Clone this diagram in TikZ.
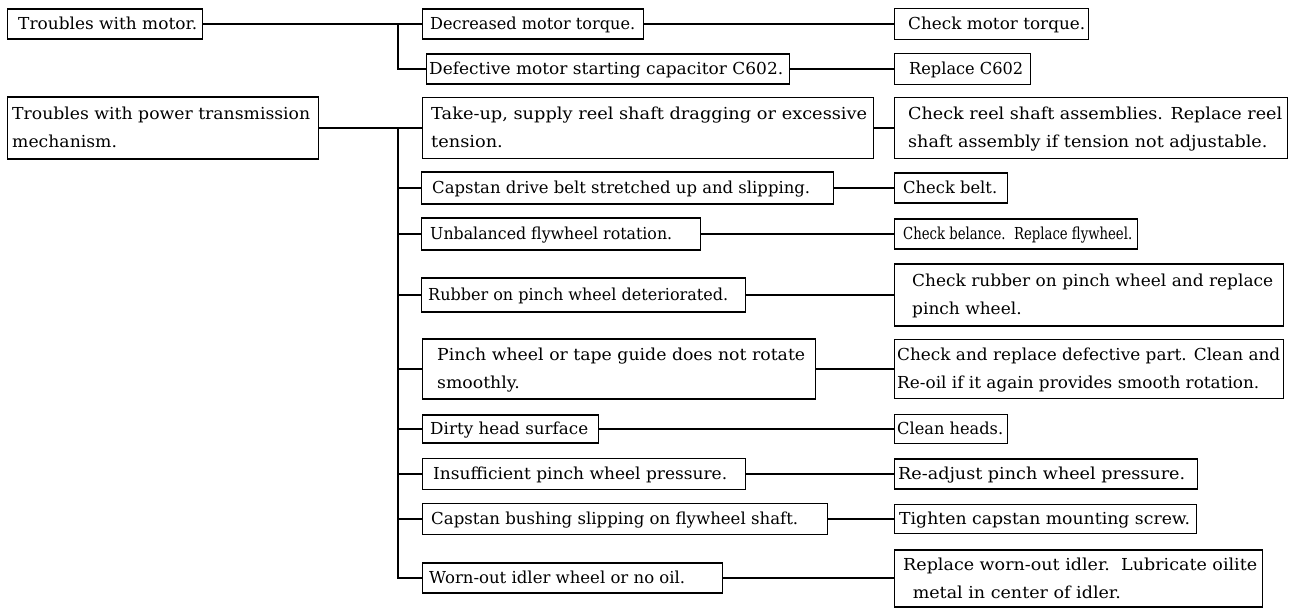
\documentclass[tikz,border=0pt]{standalone}
\usepackage{fontspec}
\usepackage{graphicx}
\setmainfont{DejaVu Serif}
\begin{document}
\begin{tikzpicture}[x=1pt,y=-1pt,
  box/.style={draw, line width=1.1pt, anchor=west, inner sep=0pt},
  txt/.style={anchor=west, inner sep=0pt, font=\fontsize{16.5}{28}\selectfont},
  conn/.style={line width=1.1pt}]
\useasboundingbox (0,0) rectangle (1296,608);
% #1 name, #2 x, #3 y, #4 w, #5 h, #6 pad, #7 text width, #8 text
\newcommand\bx[8]{%
  \node[box, minimum width=#4pt, minimum height=#5pt] (#1) at (#2,#3) {};
  \node[txt] (#1-t) at ([xshift=#6pt]#1.west)
    {\resizebox{#7pt}{\height}{\begin{tabular}{@{}l@{}}#8\end{tabular}}};}
% left column
\bx{m0}{7}{24}{195}{30}{11}{179}{Troubles with motor.}
\bx{p0}{7}{128}{311}{62}{5}{298}{Troubles with power transmission\\mechanism.}
% causes
\bx{a1}{422}{24}{221}{30}{8}{205}{Decreased motor torque.}
\bx{a2}{426}{69}{363}{30}{3}{354}{Defective motor starting capacitor C602.}
\bx{c1}{422}{128}{451}{61}{9}{436}{Take-up, supply reel shaft dragging or excessive\\tension.}
\bx{c2}{421}{188}{412}{32}{11}{378}{Capstan drive belt stretched up and slipping.}
\bx{c3}{421}{234}{279}{32}{9}{242}{Unbalanced flywheel rotation.}
\bx{c4}{421}{295}{324}{34}{7}{300}{Rubber on pinch wheel deteriorated.}
\bx{c5}{422}{369}{393}{60}{15}{368}{Pinch wheel or tape guide does not rotate\\smoothly.}
\bx{c6}{422}{429}{176}{28}{8}{158}{Dirty head surface}
\bx{c7}{422}{474}{323}{31}{11}{294}{Insufficient pinch wheel pressure.}
\bx{c8}{422}{519}{405}{31}{9}{367}{Capstan bushing slipping on flywheel shaft.}
\bx{c9}{422}{578}{300}{30}{7}{256}{Worn-out idler wheel or no oil.}
% remedies
\bx{b1}{894}{24}{194}{31}{14}{177}{Check motor torque.}
\bx{b2}{894}{69}{136}{31}{15}{114}{Replace C602}
\bx{d1}{894}{128}{393}{61}{14}{374}{Check reel shaft assemblies. Replace reel\\shaft assembly if tension not adjustable.}
\bx{d2}{894}{188}{113}{30}{9}{94}{Check belt.}
\bx{d3}{894}{234}{243}{30}{9}{229}{Check belance.\ \ Replace flywheel.}
\bx{d4}{894}{295}{389}{62}{18}{361}{Check rubber on pinch wheel and replace\\pinch wheel.}
\bx{d5}{894}{369}{389}{59}{3}{383}{Check and replace defective part. Clean and\\Re-oil if it again provides smooth rotation.}
\bx{d6}{894}{429}{113}{29}{3}{106}{Clean heads.}
\bx{d7}{894}{474}{303}{30}{4}{287}{Re-adjust pinch wheel pressure.}
\bx{d8}{894}{519}{302}{29}{5}{291}{Tighten capstan mounting screw.}
\bx{d9}{894}{578.5}{368}{57}{9}{354}{Replace worn-out idler.\ \ Lubricate oilite\\\hspace*{9pt}metal in center of idler.}
% buses
\coordinate (bus) at (398,0);
\draw[conn] (m0.east) -- (a1.west);
\draw[conn] (m0.east -| bus) |- (a2.west);
\draw[conn] (p0.east) -- (c1.west);
\draw[conn] (p0.east -| bus) |- (c9.west);
\foreach \n in {c2,c3,c4,c5,c6,c7,c8}{
  \draw[conn] (\n.west -| bus) -- (\n.west);}
% cause -> remedy
\foreach \s/\t in {a1/b1,a2/b2,c1/d1,c2/d2,c3/d3,c4/d4,c5/d5,c6/d6,c7/d7,c8/d8,c9/d9}{
  \draw[conn] (\s.east) -- (\s.east -| \t.west);}
\end{tikzpicture}
\end{document}
